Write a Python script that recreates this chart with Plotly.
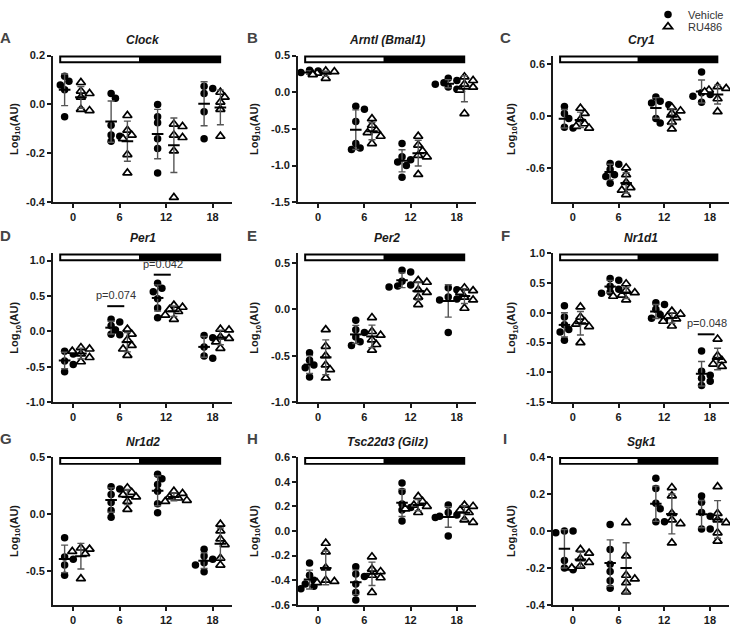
import numpy as np
import plotly.graph_objects as go

# ---------------- data (log10 AU) ----------------
times = [0, 6, 12, 18]
time_labels = ["0", "6", "12", "18"]

clock_veh = [[0.115, 0.095, 0.08, 0.06, -0.05], [0.045, 0.025, -0.085, -0.125, -0.13, -0.15],
             [0.0, -0.05, -0.075, -0.14, -0.18, -0.28], [0.075, 0.065, 0.045, -0.03, -0.14]]
clock_ru = [[0.09, 0.055, 0.045, 0.03, -0.02, -0.025], [-0.045, -0.105, -0.125, -0.14, -0.205, -0.28],
            [-0.08, -0.09, -0.125, -0.135, -0.19, -0.38], [0.05, 0.03, 0.01, -0.02, -0.13]]

bmal_veh = [[0.30, 0.29, 0.27, 0.26, 0.25, 0.24], [-0.19, -0.23, -0.4, -0.7, -0.76, -0.78],
            [-0.7, -0.88, -0.92, -0.95, -1.0, -1.16], [0.19, 0.16, 0.13, 0.11, 0.07, 0.04]]
bmal_ru = [[0.29, 0.28, 0.26, 0.25, 0.24, 0.19], [-0.36, -0.45, -0.52, -0.55, -0.6, -0.7],
           [-0.6, -0.72, -0.8, -0.86, -0.88, -1.12], [0.21, 0.16, 0.11, 0.07, 0.03, -0.29]]

cry1_veh = [[0.11, 0.03, -0.03, -0.13, -0.14], [-0.55, -0.56, -0.62, -0.68, -0.7, -0.78],
            [0.22, 0.17, 0.15, 0.13, -0.03, -0.08], [0.51, 0.27, 0.25, 0.23, 0.16]]
cry1_ru = [[0.09, 0.03, -0.04, -0.09, -0.12, -0.14], [-0.6, -0.68, -0.77, -0.83, -0.86, -0.91],
           [0.1, 0.06, 0.03, -0.02, -0.07, -0.15], [0.34, 0.32, 0.3, 0.28, 0.2, 0.05]]

per1_veh = [[-0.28, -0.32, -0.42, -0.47, -0.57], [0.17, 0.13, 0.08, 0.02, -0.04, -0.05],
            [0.68, 0.61, 0.56, 0.46, 0.33, 0.19], [-0.06, -0.09, -0.22, -0.35, -0.38]]
per1_ru = [[-0.23, -0.25, -0.28, -0.32, -0.37, -0.43], [0.03, -0.04, -0.12, -0.2, -0.25, -0.34],
           [0.37, 0.34, 0.31, 0.28, 0.23, 0.17], [0.03, 0.02, -0.08, -0.1, -0.15, -0.24]]

per2_veh = [[-0.47, -0.55, -0.6, -0.63, -0.73], [-0.12, -0.22, -0.25, -0.3, -0.35, -0.39],
            [0.42, 0.4, 0.3, 0.26, 0.25, 0.24], [0.23, 0.21, 0.13, 0.11, 0.1, -0.25]]
per2_ru = [[-0.22, -0.4, -0.5, -0.6, -0.65, -0.74], [-0.09, -0.24, -0.28, -0.33, -0.38, -0.44],
           [0.31, 0.29, 0.21, 0.18, 0.13, 0.05], [0.23, 0.2, 0.18, 0.13, 0.1, 0.01]]

nr1d1_veh = [[0.12, -0.07, -0.2, -0.28, -0.32, -0.46], [0.58, 0.55, 0.45, 0.4, 0.35, 0.33],
             [0.17, 0.14, 0.06, -0.03, -0.09, -0.11], [-0.64, -0.98, -1.05, -1.1, -1.15, -1.22]]
nr1d1_ru = [[0.1, -0.07, -0.15, -0.19, -0.23, -0.5], [0.49, 0.38, 0.34, 0.3, 0.28, 0.22],
            [0.03, -0.02, -0.06, -0.1, -0.14, -0.22], [-0.44, -0.72, -0.8, -0.86, -0.9, -0.93]]

nr1d2_veh = [[-0.21, -0.38, -0.4, -0.45, -0.54], [0.24, 0.22, 0.17, 0.1, 0.03, -0.03],
             [0.35, 0.31, 0.26, 0.2, 0.09, 0.01], [-0.31, -0.37, -0.4, -0.43, -0.45, -0.51]]
nr1d2_ru = [[-0.3, -0.31, -0.33, -0.35, -0.57], [0.23, 0.19, 0.17, 0.15, 0.11, 0.04],
            [0.2, 0.18, 0.15, 0.14, 0.12, 0.11], [-0.09, -0.15, -0.22, -0.27, -0.39, -0.45]]

gilz_veh = [[-0.26, -0.36, -0.4, -0.43, -0.45, -0.47], [-0.29, -0.35, -0.37, -0.43, -0.5, -0.56],
            [0.39, 0.32, 0.22, 0.19, 0.17, 0.08], [0.21, 0.15, 0.13, 0.12, 0.11, -0.04]]
gilz_ru = [[-0.1, -0.17, -0.3, -0.4, -0.41, -0.42], [-0.21, -0.31, -0.33, -0.36, -0.38, -0.5],
           [0.28, 0.24, 0.21, 0.2, 0.18, 0.15], [0.21, 0.2, 0.17, 0.15, 0.09, 0.07]]

sgk1_veh = [[0.0, 0.0, -0.01, -0.16, -0.2, -0.21], [0.035, -0.1, -0.18, -0.22, -0.27, -0.31],
            [0.285, 0.23, 0.15, 0.12, 0.05, 0.05], [0.19, 0.155, 0.1, 0.08, 0.01, 0.01]]
sgk1_ru = [[-0.1, -0.12, -0.15, -0.17, -0.19, -0.2], [0.045, -0.135, -0.24, -0.26, -0.28, -0.33],
           [0.235, 0.19, 0.095, 0.06, 0.04, -0.065], [0.24, 0.095, 0.06, 0.045, -0.01, -0.055]]

panel_letters = ["A", "B", "C", "D", "E", "F", "G", "H", "I"]
gene_titles = ["Clock", "Arntl (Bmal1)", "Cry1", "Per1", "Per2", "Nr1d1", "Nr1d2", "Tsc22d3 (Gilz)", "Sgk1"]
vehicle_sets = [clock_veh, bmal_veh, cry1_veh, per1_veh, per2_veh, nr1d1_veh, nr1d2_veh, gilz_veh, sgk1_veh]
ru486_sets = [clock_ru, bmal_ru, cry1_ru, per1_ru, per2_ru, nr1d1_ru, nr1d2_ru, gilz_ru, sgk1_ru]

y_ranges = [[-0.4, 0.2], [-1.5, 0.5], [-1.0, 0.7], [-1.0, 1.1], [-1.0, 0.6], [-1.5, 1.0],
            [-0.8, 0.5], [-0.6, 0.6], [-0.4, 0.4]]
y_ticks = [[-0.4, -0.2, 0.0, 0.2], [-1.5, -1.0, -0.5, 0.0, 0.5], [-0.6, 0.0, 0.6],
           [-1.0, -0.5, 0.0, 0.5, 1.0], [-1.0, -0.5, 0.0, 0.5], [-1.5, -1.0, -0.5, 0.0, 0.5, 1.0],
           [-0.5, 0.0, 0.5], [-0.6, -0.4, -0.2, 0.0, 0.2, 0.4, 0.6], [-0.4, -0.2, 0.0, 0.2, 0.4]]

# significance annotations: (panel index, time, bar level, label)
sig_panel = [3, 3, 5]
sig_time = [6, 12, 18]
sig_level = [0.355, 0.80, -0.36]
sig_label = ["p=0.074", "p=0.042", "p=0.048"]

# ---------------- layout geometry (pixels) ----------------
W, H = 730, 633
col_px = [(53, 232), (298, 476), (553, 729)]
row_px = [(41, 193), (246, 400), (457, 610)]
XR = [-2.6, 20.5]
VEH_OFF, RU_OFF = -1.1, 1.0
FONT = "Liberation Sans, Arial, sans-serif"
INK = "#1a1a1a"


def swarm(vals, ypx, xpx, d=7.2):
    order = np.argsort(-np.asarray(vals))
    placed = []
    offs = np.zeros(len(vals))
    for i in order:
        y = vals[i] * ypx
        for k in [0, 1, -1, 2, -2, 3, -3]:
            x = k * d * 0.6
            if all((x - px) ** 2 + (y - py) ** 2 >= (d * 0.85) ** 2 for px, py in placed):
                break
        placed.append((x, y))
        offs[i] = x / xpx
    return offs


fig = go.Figure()
layout = dict(width=W, height=H, margin=dict(l=0, r=0, t=0, b=0),
              paper_bgcolor="white", plot_bgcolor="white", showlegend=True,
              font=dict(family=FONT, color=INK))
shapes, annotations = [], []

for i in range(9):
    r, c = divmod(i, 3)
    n = "" if i == 0 else str(i + 1)
    xa, ya = "x" + n, "y" + n
    x0, x1 = col_px[c]
    yt, yb = row_px[r]
    yr = y_ranges[i]
    xpx = (x1 - x0) / (XR[1] - XR[0])
    ypx = (yb - yt) / (yr[1] - yr[0])

    layout["xaxis" + n] = dict(domain=[x0 / W, x1 / W], anchor=ya, range=XR,
                               tickvals=times, ticktext=time_labels,
                               showline=True, linecolor=INK, linewidth=1.6,
                               ticks="outside", ticklen=4, tickwidth=1.5, tickcolor=INK,
                               tickfont=dict(family=FONT, size=11, color=INK, weight="bold"),
                               showgrid=False, zeroline=False)
    layout["yaxis" + n] = dict(domain=[1 - yb / H, 1 - yt / H], anchor=xa, range=yr,
                               tickvals=y_ticks[i], ticktext=[f"{v:.1f}" for v in y_ticks[i]],
                               showline=True, linecolor=INK, linewidth=1.6,
                               ticks="outside", ticklen=4, tickwidth=1.5, tickcolor=INK,
                               tickfont=dict(family=FONT, size=11, color=INK, weight="bold"),
                               showgrid=False, zeroline=False)

    for g, (sets, off, name) in enumerate([(vehicle_sets, VEH_OFF, "Vehicle"), (ru486_sets, RU_OFF, "RU486")]):
        xs, ys, mx, my, ex, ey, es = [], [], [], [], [], [], []
        for t, vals in zip(times, sets[i]):
            v = np.asarray(vals, dtype=float)
            o = swarm(v, ypx, xpx)
            xs += list(t + off + o)
            ys += list(v)
            m = v.mean()
            s = v.std(ddof=1)
            mx += [t + off - 0.75, t + off + 0.75, None]
            my += [m, m, None]
            ex.append(t + off)
            ey.append(m)
            es.append(s)
        if g == 0:
            marker = dict(symbol="circle", size=7.5, color="black", line=dict(width=0))
        else:
            marker = dict(symbol="triangle-up", size=8, color="white", line=dict(width=1.7, color="black"))
        fig.add_trace(go.Scatter(x=xs, y=ys, mode="markers", marker=marker, name=name,
                                 showlegend=(i == 0), legend=("legend" if g == 0 else "legend2"),
                                 xaxis=xa, yaxis=ya, cliponaxis=False))
        fig.add_trace(go.Scatter(x=ex, y=ey, mode="markers", marker=dict(size=1, color="rgba(0,0,0,0)"),
                                 error_y=dict(type="data", array=es, color="#555", thickness=1.4, width=3.5),
                                 showlegend=False, xaxis=xa, yaxis=ya, hoverinfo="skip"))
        fig.add_trace(go.Scatter(x=mx, y=my, mode="lines", line=dict(color="black", width=2),
                                 showlegend=False, xaxis=xa, yaxis=ya, hoverinfo="skip"))

    # light/dark bar
    yd = ya + " domain"
    shapes.append(dict(type="rect", xref=xa, yref=yd, x0=-1.8, x1=19.1, y0=1 - 8 / (yb - yt), y1=1.0,
                       fillcolor="black", line=dict(width=0), layer="above"))
    shapes.append(dict(type="rect", xref=xa, yref=yd, x0=-1.8 + 2 / xpx, x1=8.5,
                       y0=1 - 6 / (yb - yt), y1=1 - 2 / (yb - yt),
                       fillcolor="white", line=dict(width=0), layer="above"))

    # titles, letters, y axis title
    annotations.append(dict(text=f"<i><b>{gene_titles[i]}</b></i>", xref="paper", yref="paper",
                            x=(x0 + x1) / 2 / W, y=1 - (yt - 16) / H, showarrow=False,
                            font=dict(family=FONT, size=12, color=INK), xanchor="center", yanchor="middle"))
    annotations.append(dict(text=f"<b>{panel_letters[i]}</b>", xref="paper", yref="paper",
                            x=[6, 252, 505][c] / W, y=1 - (yt - 19) / H, showarrow=False,
                            font=dict(family=FONT, size=15, color="#444"), xanchor="center", yanchor="middle"))
    annotations.append(dict(text="<b>Log<sub>10</sub>(AU)</b>", xref="paper", yref="paper",
                            x=[15, 255, 512][c] / W, y=1 - (yt + yb) / 2 / H, textangle=-90, showarrow=False,
                            font=dict(family=FONT, size=11, color=INK), xanchor="center", yanchor="middle"))

for pi, t, lv, lab in zip(sig_panel, sig_time, sig_level, sig_label):
    n = "" if pi == 0 else str(pi + 1)
    yr = y_ranges[pi]
    r = pi // 3
    ypx = (row_px[r][1] - row_px[r][0]) / (yr[1] - yr[0])
    shapes.append(dict(type="line", xref="x" + n, yref="y" + n, x0=t - 1.6, x1=t + 0.6, y0=lv, y1=lv,
                       line=dict(color="black", width=2)))
    annotations.append(dict(text=lab, xref="x" + n, yref="y" + n, x=t - 0.45, y=lv + 3 / ypx,
                            showarrow=False, yanchor="bottom", xanchor="center",
                            font=dict(family=FONT, size=11, color="#333")))

layout["shapes"] = shapes
layout["annotations"] = annotations
leg_common = dict(x=648 / W, xanchor="left", yanchor="middle", bgcolor="rgba(0,0,0,0)",
                  font=dict(family=FONT, size=11, color="#333"), itemwidth=30)
layout["legend"] = dict(y=1 + 2 / H, **leg_common)
layout["legend2"] = dict(y=1 - 11 / H, **leg_common)
fig.update_layout(**layout)
fig.write_html("out.html", config={"displayModeBar": False},
               post_script="document.body.style.margin='0px';document.body.style.overflow='hidden';")
